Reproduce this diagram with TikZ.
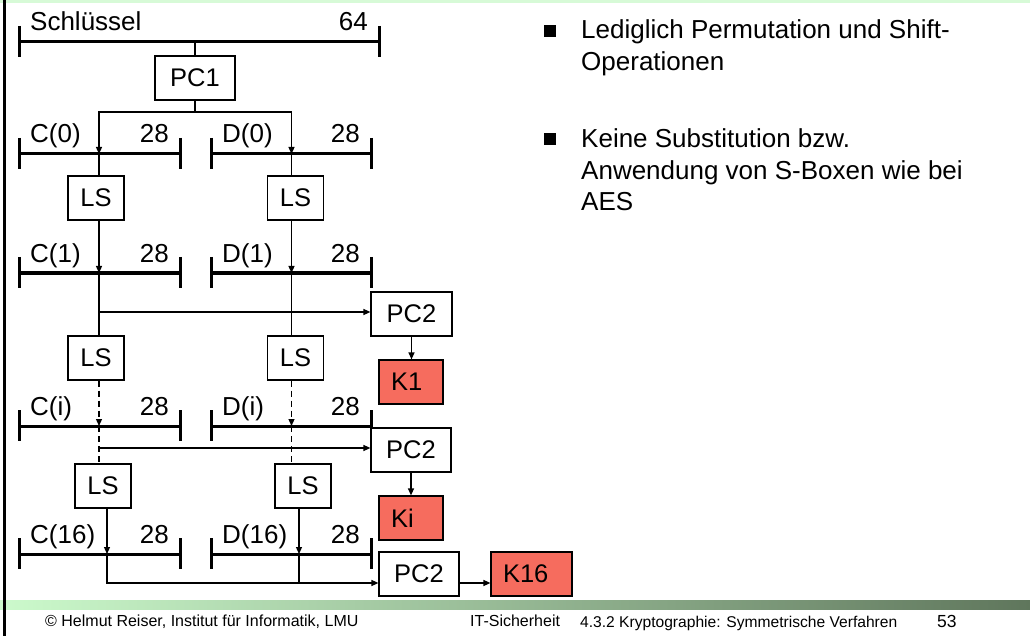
\documentclass[tikz,border=0pt]{standalone}
\usepackage{fontspec}
\setmainfont{Liberation Sans}
\usetikzlibrary{arrows.meta,calc}

\definecolor{keyred}{RGB}{246,108,94}
\definecolor{bandlight}{RGB}{204,250,204}
\definecolor{bandmid}{RGB}{165,208,162}
\definecolor{banddark}{RGB}{95,118,92}
\definecolor{toppale}{RGB}{215,250,215}

% key register: bar with end ticks, name on the left, width on the right
\newcommand\keybar[6]{%
  \coordinate (#1-l) at (#2,#4);
  \coordinate (#1-r) at (#3,#4);
  \draw[barline] (#2,#4-16) -- (#2,#4+15) (#3,#4-16) -- (#3,#4+15);
  \draw[barline] (#1-l) -- (#1-r);
  \node[lbl, anchor=base west] (#1-name) at (#2+11,#4-11) {#5};
  \node[lbl, anchor=base east] (#1-bits) at (#3-11,#4-11) {#6};
}

\begin{document}
\begin{tikzpicture}[x=1pt,y=-1pt,
  lbl/.style={inner sep=0, font=\fontsize{26}{31}\selectfont},
  barline/.style={line width=3pt},
  conn/.style={line width=1.2pt},
  tip/.style={-{Triangle[length=7pt,width=6pt]}},
  dashedconn/.style={conn, dash pattern=on 6pt off 4pt},
  opbox/.style={draw, line width=1.2pt, fill=white, inner sep=0,
    minimum height=44pt, font=\fontsize{25.5}{30}\selectfont},
  keybox/.style={draw, line width=1.2pt, fill=keyred, inner xsep=12pt,
    inner ysep=0, minimum height=44pt, align=left,
    font=\fontsize{25.5}{30}\selectfont},
  sq/.style={fill=black, inner sep=0, minimum size=12pt},
  bodytext/.style={inner sep=0, anchor=base west, font=\fontsize{26}{31}\selectfont},
  foot/.style={inner sep=0, anchor=base west, font=\fontsize{16}{19}\selectfont}
]
\useasboundingbox (0,0) rectangle (1030,636);

% slide frame
\fill[toppale] (0,0) rectangle (1030,3);
\shade[left color=bandlight, middle color=bandmid, right color=banddark]
  (0,600) rectangle (1030,609);
\draw[line width=3pt] (4.5,0) -- (4.5,636);

% key registers
\keybar{key}{19}{379}{42}{Schlüssel}{64}
\keybar{c0}{19}{180}{154}{C(0)}{28}
\keybar{d0}{211}{371}{154}{D(0)}{28}
\keybar{c1}{19}{180}{273}{C(1)}{28}
\keybar{d1}{211}{371}{273}{D(1)}{28}
\keybar{ci}{19}{180}{426}{C(i)}{28}
\keybar{di}{211}{371}{426}{D(i)}{28}
\keybar{c16}{19}{180}{554}{C(16)}{28}
\keybar{d16}{211}{371}{554}{D(16)}{28}

% operation boxes and round keys
\node[opbox, minimum width=80pt] (pc1) at (195,78) {PC1};
\node[opbox, minimum width=56pt] (lsC1) at (96,198) {LS};
\node[opbox, minimum width=56pt] (lsD1) at (295.5,198) {LS};
\node[opbox, minimum width=81pt] (pc2a) at (411.5,314) {PC2};
\node[opbox, minimum width=56pt] (lsC2) at (96,358) {LS};
\node[opbox, minimum width=56pt] (lsD2) at (295.5,358) {LS};
\node[keybox, text width=40pt] (k1) at (411,382) {K1};
\node[opbox, minimum width=80pt] (pc2b) at (411,450) {PC2};
\node[keybox, text width=40pt] (ki) at (411,518) {Ki};
\node[opbox, minimum width=56pt] (lsC3) at (103,486) {LS};
\node[opbox, minimum width=56pt] (lsD3) at (303,486) {LS};
\node[opbox, minimum width=80pt] (pc2c) at (419,574) {PC2};
\node[keybox, text width=57pt] (k16) at (531.5,574) {K16};

% data path columns
\coordinate (cA) at (99,0);
\coordinate (dA) at (291.5,0);
\coordinate (cB) at (107,0);
\coordinate (dB) at (299,0);
\coordinate (split) at (195,112);
\coordinate (tapA) at (99,312);
\coordinate (tapB) at (99,448);
\coordinate (tapC) at (107,583);

% key -> PC1 -> C(0), D(0)
\draw[conn] (key-l -| pc1) -- (pc1.north);
\draw[conn] (pc1.south) -- (split);
\draw[conn,tip] (split) -| (cA |- c0-l);
\draw[conn,tip] (split) -| (dA |- d0-l);

% round 1
\draw[conn] (cA |- c0-l) -- (cA |- lsC1.north);
\draw[conn] (dA |- d0-l) -- (dA |- lsD1.north);
\draw[conn,tip] (cA |- lsC1.south) -- (cA |- c1-l);
\draw[conn,tip] (dA |- lsD1.south) -- (dA |- d1-l);
\draw[conn] (cA |- c1-l) -- (cA |- lsC2.north);
\draw[conn] (dA |- d1-l) -- (dA |- lsD2.north);
\draw[conn,tip] (tapA) -- (tapA -| pc2a.west);
\draw[conn,tip] (pc2a.south) -- (pc2a.south |- k1.north);

% round i
\draw[dashedconn,tip] (cA |- lsC2.south) -- (cA |- ci-l);
\draw[dashedconn,tip] (dA |- lsD2.south) -- (dA |- di-l);
\draw[dashedconn] (cA |- ci-l) -- (cA |- lsC3.north);
\draw[dashedconn] (dA |- di-l) -- (dA |- lsD3.north);
\draw[conn,tip] (tapB) -- (tapB -| pc2b.west);
\draw[conn,tip] (pc2b.south) -- (ki.north);

% round 16
\draw[conn,tip] (cB |- lsC3.south) -- (cB |- c16-l);
\draw[conn,tip] (dB |- lsD3.south) -- (dB |- d16-l);
\draw[conn,tip] (cB |- c16-l) |- (tapC -| pc2c.west);
\draw[conn] (dB |- d16-l) -- (dB |- tapC);
\draw[conn,tip] (tapC -| pc2c.east) -- (tapC -| k16.west);

% remarks
\node[sq] (b1) at (549.5,31.5) {};
\node[bodytext] (t1a) at (581,39) {Lediglich Permutation und Shift-};
\node[bodytext] (t1b) at (581,70.2) {Operationen};
\node[sq] (b2) at (549.5,139.5) {};
\node[bodytext] (t2a) at (581,148) {Keine Substitution bzw.};
\node[bodytext] (t2b) at (581,179.2) {Anwendung von S-Boxen wie bei};
\node[bodytext] (t2c) at (581,210.4) {AES};

% footer
\node[foot] (f1) at (45,626) {© Helmut Reiser, Institut für Informatik, LMU};
\node[foot] (f2) at (470,626) {IT-Sicherheit};
\node[foot, font=\fontsize{15.6}{19}\selectfont] (f3) at (580,627) {4.3.2 Kryptographie: Symmetrische Verfahren};
\node[foot, font=\fontsize{17.5}{21}\selectfont] (f4) at (937,627) {53};
\end{tikzpicture}
\end{document}
